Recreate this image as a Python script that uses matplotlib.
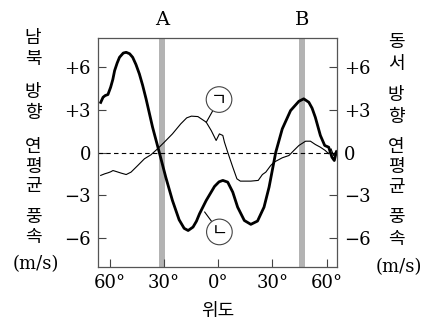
import matplotlib
matplotlib.use("Agg")
import matplotlib.pyplot as plt

# latitude (deg, south negative) and annual mean wind speed (m/s)
lat_thick = [-65.0, -63.7, -62.5, -61.0, -59.5, -58.3, -57.3, -55.9, -54.6, -52.5,
             -50.9, -49.0, -47.3, -45.5, -43.6, -41.8, -39.9, -36.3, -32.6, -29.0,
             -25.3, -21.6, -18.8, -16.6, -13.9, -12.0, -10.3, -6.6, -2.0, 0.5,
             2.6, 5.3, 8.1, 10.8, 14.5, 18.1, 21.8, 25.4, 28.2, 31.9,
             35.5, 40.1, 44.7, 47.4, 50.2, 52.0, 53.8, 56.6, 59.0, 61.2,
             63.0, 64.3, 65.4]
val_thick = [3.5, 3.86, 3.98, 4.05, 4.56, 5.1, 5.72, 6.25, 6.65, 6.95,
             7.0, 6.9, 6.65, 6.15, 5.49, 4.7, 3.75, 1.77, 0.02, -1.72,
             -3.35, -4.7, -5.3, -5.45, -5.21, -4.8, -4.28, -3.35, -2.37, -2.05,
             -1.95, -2.07, -2.77, -3.82, -4.75, -5.02, -4.79, -3.82, -2.42, 0.02,
             1.65, 2.93, 3.58, 3.75, 3.51, 3.1, 2.46, 1.19, 0.49, 0.37,
             -0.33, -0.56, 0.02]

lat_thin = [-65.0, -62.8, -61.0, -59.5, -58.2, -56.4, -53.7, -50.9, -48.2, -44.5,
            -40.8, -37.2, -33.5, -29.8, -25.3, -20.7, -17.4, -14.8, -11.2, -6.6,
            -3.8, -1.1, 0.7, 2.6, 3.5, 5.3, 8.1, 10.4, 12.3, 18.1,
            22.2, 24.5, 26.4, 29.1, 30.9, 35.5, 39.2, 41.9, 44.7, 48.4,
            51.1, 53.8, 56.6, 59.3, 61.2, 62.5, 63.9, 65.4]
val_thin = [-1.6, -1.49, -1.42, -1.35, -1.26, -1.33, -1.44, -1.54, -1.37, -0.91,
            -0.44, -0.16, 0.26, 0.72, 1.3, 2.0, 2.42, 2.54, 2.51, 2.12,
            1.53, 0.84, 1.3, 1.19, 0.72, 0.02, -1.02, -1.84, -2.0, -2.0,
            -1.95, -1.54, -1.37, -0.91, -0.68, -0.37, -0.21, 0.14, 0.49, 0.79,
            0.79, 0.56, 0.37, 0.14, -0.09, 0.26, -0.21, 0.14]

band_a = (-33.0, -29.5)
band_b = (44.7, 48.0)
yticks = [6, 3, 0, -3, -6]
ytick_labels = ["+6", "+3", "0", "\u22123", "\u22126"]
xticks = [-60, -30, 0, 30, 60]
xtick_labels = ["60\u00b0", "30\u00b0", "0\u00b0", "30\u00b0", "60\u00b0"]

serif = "DejaVu Serif"
kor = "Noto Sans CJK KR"

fig = plt.figure(figsize=(4.35, 3.26), dpi=100)
ax = fig.add_axes([98 / 435, 1 - 267 / 326, 239 / 435, 229 / 326])

ax.axvspan(*band_a, color="#b3b3b3", lw=0)
ax.axvspan(*band_b, color="#b3b3b3", lw=0)
ax.axhline(0, color="black", lw=0.8, ls=(0, (4, 3)))
ax.plot(lat_thin, val_thin, color="black", lw=0.8)
ax.plot(lat_thick, val_thick, color="black", lw=2.0)

ax.set_xlim(-66.5, 65.8)
ax.set_ylim(-8, 8)

ax.set_yticks(yticks)
ax.set_yticklabels(ytick_labels, fontfamily=serif, fontsize=13)
ax.set_xticks(xticks)
ax.set_xticklabels(xtick_labels, fontfamily=serif, fontsize=13)
ax.tick_params(direction="in", length=6, width=0.8, color="#444444",
               left=True, right=True, labelright=True)
ax.tick_params(axis="y", pad=5)
ax.tick_params(axis="x", pad=5)
for s in ax.spines.values():
    s.set_color("#555555")
    s.set_linewidth(0.9)

ax.text(sum(band_a) / 2, 8.6, "A", ha="center", va="bottom", fontfamily=serif, fontsize=14)
ax.text(sum(band_b) / 2, 8.6, "B", ha="center", va="bottom", fontfamily=serif, fontsize=14)

circ = dict(boxstyle="circle,pad=0.22", fc="white", ec="#444444", lw=0.8)
ax.annotate("ㄱ", xy=(-6.6, 2.1), xytext=(0.5, 3.7), ha="center", va="center",
            fontfamily=kor, fontsize=12.5, bbox=circ,
            arrowprops=dict(arrowstyle="-", lw=0.8, color="black", shrinkA=0, shrinkB=0))
ax.annotate("ㄴ", xy=(-7.5, -4.15), xytext=(0.7, -5.55), ha="center", va="center",
            fontfamily=kor, fontsize=12.5, bbox=circ,
            arrowprops=dict(arrowstyle="-", lw=0.8, color="black", shrinkA=0, shrinkB=0))

# vertical stacked axis titles
left_chars = ["남", "북", "방", "향", "연", "평", "균", "풍", "속"]
left_y = [38, 59, 92, 113, 147, 167, 186, 217, 237]
right_chars = ["동", "서", "방", "향", "연", "평", "균", "풍", "속"]
right_y = [42, 64, 95, 117, 147, 167, 187, 217, 239]
for c, y in zip(left_chars, left_y):
    fig.text(33 / 435, 1 - y / 326, c, ha="center", va="center", fontfamily=kor, fontsize=13)
for c, y in zip(right_chars, right_y):
    fig.text(396 / 435, 1 - y / 326, c, ha="center", va="center", fontfamily=kor, fontsize=13)
fig.text(36 / 435, 1 - 264 / 326, "(m/s)", ha="center", va="center", fontfamily=serif, fontsize=13)
fig.text(399 / 435, 1 - 267 / 326, "(m/s)", ha="center", va="center", fontfamily=serif, fontsize=13)
fig.text(218 / 435, 1 - 311 / 326, "위도", ha="center", va="center", fontfamily=kor, fontsize=13)

fig.savefig("out.png", dpi=100)
